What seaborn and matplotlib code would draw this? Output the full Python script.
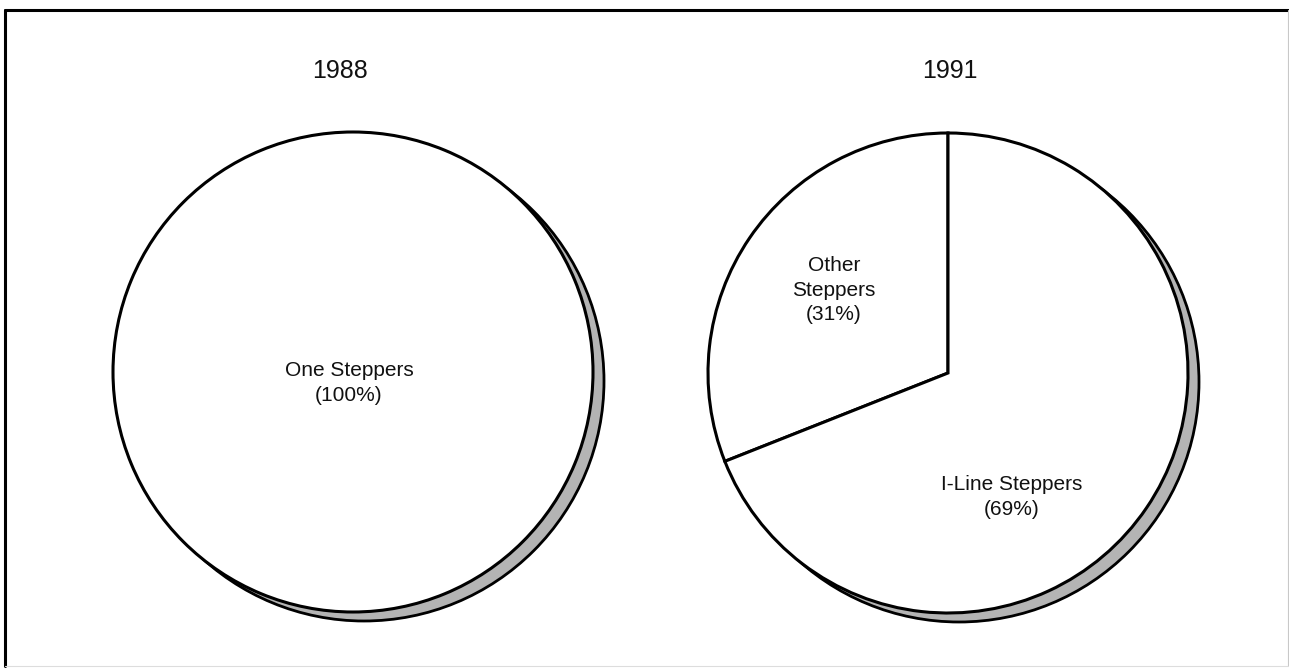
import matplotlib
matplotlib.use("Agg")
import matplotlib.pyplot as plt
import seaborn as sns
from matplotlib.patches import Circle
from matplotlib.lines import Line2D

sns.set_theme(style="white")
plt.rcParams["font.family"] = ["Liberation Sans", "DejaVu Sans"]

# Stepper market share by year
years = ["1988", "1991"]
labels_1988 = ["One Steppers"]
shares_1988 = [100]
labels_1991 = ["Other Steppers", "I-Line Steppers"]
shares_1991 = [31, 69]

W, H = 1289, 669
fig = plt.figure(figsize=(W / 100, H / 100), dpi=100)
fig.patch.set_facecolor("white")

R_PX = 240          # pie radius in pixels
HALF = 1.1          # axis half-extent in data units


def pie_axes(cx, cy):
    side = 2 * HALF * R_PX
    ax = fig.add_axes([(cx - side / 2) / W, (H - cy - side / 2) / H, side / W, side / H])
    ax.set_xlim(-HALF, HALF)
    ax.set_ylim(-HALF, HALF)
    ax.set_aspect("equal")
    ax.axis("off")
    return ax


def draw_pie(ax, values):
    # drop shadow behind the pie
    ox, oy = 11 / R_PX, -9 / R_PX
    ax.add_patch(Circle((ox, oy), 1.0, facecolor="#b4b4b4", edgecolor="black",
                        linewidth=2.0, zorder=1))
    wedges, _ = ax.pie(values, startangle=90, counterclock=True, radius=1.0,
                       colors=["white"] * len(values),
                       wedgeprops=dict(edgecolor="black", linewidth=2.2))
    for w in wedges:
        w.set_zorder(2)
    ax.set_xlim(-HALF, HALF)
    ax.set_ylim(-HALF, HALF)
    return wedges


def px_to_data(ax_center, px, py):
    cx, cy = ax_center
    return (px - cx) / R_PX, (cy - py) / R_PX


text_kw = dict(ha="center", va="center", fontsize=15, color="#111111",
               linespacing=1.35, zorder=5)

# 1988
c1 = (353, 372)
ax1 = pie_axes(*c1)
draw_pie(ax1, shares_1988)
x, y = px_to_data(c1, 349, 383)
ax1.text(x, y, f"{labels_1988[0]}\n({shares_1988[0]}%)", **text_kw)

# 1991
c2 = (948, 373)
ax2 = pie_axes(*c2)
draw_pie(ax2, shares_1991)
x, y = px_to_data(c2, 834, 290)
ax2.text(x, y, "Other\nSteppers\n({}%)".format(shares_1991[0]), **text_kw)
x, y = px_to_data(c2, 1012, 497)
ax2.text(x, y, f"{labels_1991[1]}\n({shares_1991[1]}%)", **text_kw)

# year headings
fig.text(340 / W, 1 - 71 / H, years[0], ha="center", va="center", fontsize=18, color="#111111")
fig.text(950 / W, 1 - 71 / H, years[1], ha="center", va="center", fontsize=18, color="#111111")

# frame around the whole chart
fig.add_artist(Line2D([5 / W, 5 / W], [1 - 10 / H, 1 - 666 / H], color="black", linewidth=2.2))
fig.add_artist(Line2D([5 / W, 1288 / W], [1 - 10 / H, 1 - 10 / H], color="black", linewidth=2.2))
fig.add_artist(Line2D([1287.5 / W, 1287.5 / W], [1 - 10 / H, 1 - 666 / H], color="#c8c8c8", linewidth=0.8))
fig.add_artist(Line2D([5 / W, 1288 / W], [1 - 666 / H, 1 - 666 / H], color="#dddddd", linewidth=0.8))

fig.savefig("out.png", dpi=100, facecolor="white")
